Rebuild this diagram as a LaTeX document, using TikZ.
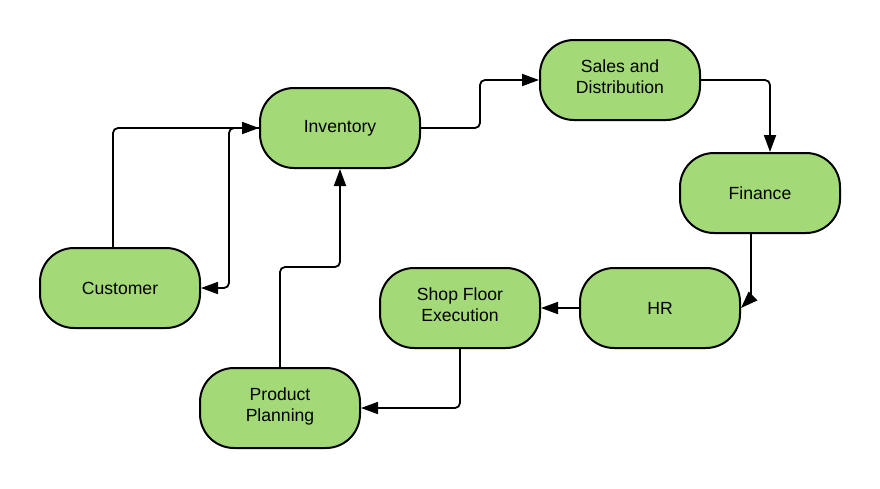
\documentclass[tikz,border=0pt]{standalone}
\usepackage{fontspec}
\setmainfont{Liberation Sans}
\usetikzlibrary{arrows.meta}
\definecolor{boxgreen}{RGB}{163,217,119}
\begin{document}
\begin{tikzpicture}[x=1pt,y=-1pt,
  pill/.style={draw=black, line width=2pt, fill=boxgreen, rectangle, rounded corners=34pt,
    minimum width=160pt, minimum height=80pt, align=center, inner sep=0pt,
    font=\fontsize{17.6}{21}\selectfont},
  twoline/.style={text depth=6pt},
  arr/.style={draw=black, line width=1.8pt, rounded corners=5pt,
    -{Triangle[length=17pt,width=12pt]}}]
\useasboundingbox (0,0) rectangle (880,488);
\node[pill] (inv) at (340,128) {Inventory};
\node[pill,twoline] (sal) at (620,80) {Sales and\\Distribution};
\node[pill] (fin) at (760,193) {Finance};
\node[pill] (hr) at (660,308) {HR};
\node[pill,twoline] (shop) at (460,308) {Shop Floor\\Execution};
\node[pill,twoline] (pp) at (280,408) {Product\\Planning};
\node[pill] (cust) at (120,288) {Customer};

\draw[arr] ([xshift=-7pt]cust.north) |- (inv.west);
\draw[arr] (inv.west) -- ++(-30,0) |- (cust.east);
\draw[arr] (inv.east) -- ++(59,0) |- (sal.west);
\draw[arr] (sal.east) -| ([xshift=10pt]fin.north);
\draw[arr] ([xshift=-9pt]fin.south) -- ++(0,59) to[out=-90,in=45] (hr.east);
\draw[arr] (hr.west) -- (shop.east);
\draw[arr] (shop.south) |- (pp.east);
\draw[arr] (pp.north) -- ++(0,-100) -| (inv.south);
\end{tikzpicture}
\end{document}
